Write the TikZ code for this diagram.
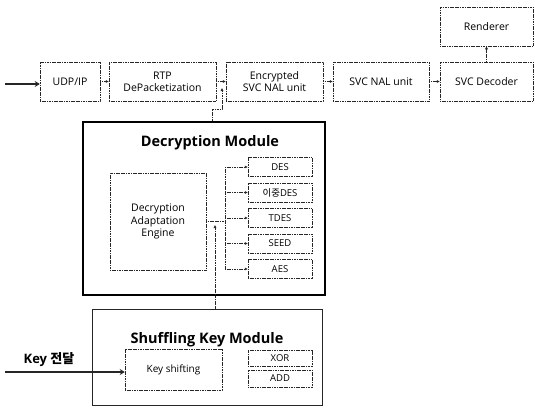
\documentclass[tikz,border=0pt]{standalone}
\usepackage{fontspec}
\setmainfont{Open Sans}
\newfontfamily\kr{Noto Sans CJK KR}
\usetikzlibrary{arrows.meta}
\tikzset{
  box/.style={draw=black!85, line width=0.5pt, dash pattern=on 1.2pt off 0.5pt, align=center, inner sep=1pt, font=\fontsize{10.5}{12}\selectfont},
  small/.style={box, font=\fontsize{9.5}{11}\selectfont},
  conn/.style={draw=black!85, line width=0.5pt, dash pattern=on 1.2pt off 0.5pt, -{Latex[length=3pt,width=3pt]}},
  line/.style={draw=black!85, line width=0.5pt, dash pattern=on 1.2pt off 0.5pt},
  thick arrow/.style={draw=black!85, line width=2.2pt, -{Stealth[length=5pt,width=6pt]}},
  title/.style={font=\fontsize{14.5}{16}\selectfont\bfseries},
}
\begin{document}
\begin{tikzpicture}[x=1pt,y=-1pt]
\useasboundingbox (0,0) rectangle (535,407);
% top row
\node[box, minimum width=60pt, minimum height=39pt] (udp) at (70,81.5) {UDP/IP};
\node[box, minimum width=107pt, minimum height=39pt] (rtp) at (162.5,81.5) {RTP\\DePacketization};
\node[box, minimum width=97pt, minimum height=39pt] (enc) at (274.5,81.5) {Encrypted\\SVC NAL unit};
\node[box, minimum width=96pt, minimum height=39pt] (nal) at (381,81.5) {SVC NAL unit};
\node[box, minimum width=93pt, minimum height=39pt] (dec) at (486.5,81.5) {SVC Decoder};
\node[box, minimum width=93pt, minimum height=39pt] (ren) at (486.5,26.5) {Renderer};
\coordinate (in) at (5,84);
\draw[thick arrow] (in) -- (in -| udp.west);
\draw[conn] (udp) -- (rtp);
\draw[conn] (rtp) -- (enc);
\draw[conn] (enc) -- (nal);
\draw[conn] (nal) -- (dec);
\draw[conn] (dec) -- (ren);
% decryption module
\node[draw=black, line width=1.1pt, minimum width=242pt, minimum height=173pt] (dm) at (204,208.5) {};
\node[title] (dmt) at (210,143) {Decryption Module};
\node[box, font=\fontsize{10.5}{12.5}\selectfont, minimum width=96pt, minimum height=97pt] (eng) at (158,221.5) {Decryption\\Adaptation\\Engine};
\node[small, minimum width=64pt, minimum height=19pt] (des) at (280,167) {DES};
\node[small, minimum width=64pt, minimum height=19pt] (ddes) at (280,192.5) {{\kr 이중}DES};
\node[small, minimum width=64pt, minimum height=19pt] (tdes) at (280,218) {TDES};
\node[small, minimum width=64pt, minimum height=19pt] (seed) at (280,243.5) {SEED};
\node[small, minimum width=64pt, minimum height=19pt] (aes) at (280,269) {AES};
\coordinate (bus) at (225,221.5);
\draw[line] (eng.east) -- (bus);
\draw[line] (bus |- des.west) -- (bus |- aes.west);
\foreach \n in {des,ddes,tdes,seed,aes}{
  \draw[conn] (bus |- \n.west) -- (\n.west);
}
% link decryption module -> top row
\coordinate (j1) at (212,109);
\coordinate (j2) at (222,109);
\draw[conn] (dm.north -| j1) -- (j1) -- (j2) -- (j2 |- 0,88);
% shuffling key module
\node[draw=black!85, line width=0.8pt, minimum width=230pt, minimum height=96pt] (sk) at (207,357) {};
\node[title] (skt) at (207,340) {Shuffling Key Module};
\node[box, font=\fontsize{10}{11}\selectfont, minimum width=97pt, minimum height=41pt] (ks) at (173.5,369.5) {Key shifting};
\node[small, minimum width=64pt, minimum height=16pt] (xor) at (280,358) {XOR};
\node[small, minimum width=64pt, minimum height=17pt] (add) at (280,378.5) {ADD};
\coordinate (s1) at (215,225);
\draw[conn] (sk.north -| s1) -- (s1);
\node[font=\fontsize{13}{15}\selectfont\bfseries] (keylbl) at (49,360) {Key {\kr\bfseries 전달}};
\coordinate (kin) at (5,372);
\draw[thick arrow] (kin) -- (kin -| ks.west);
\end{tikzpicture}
\end{document}
